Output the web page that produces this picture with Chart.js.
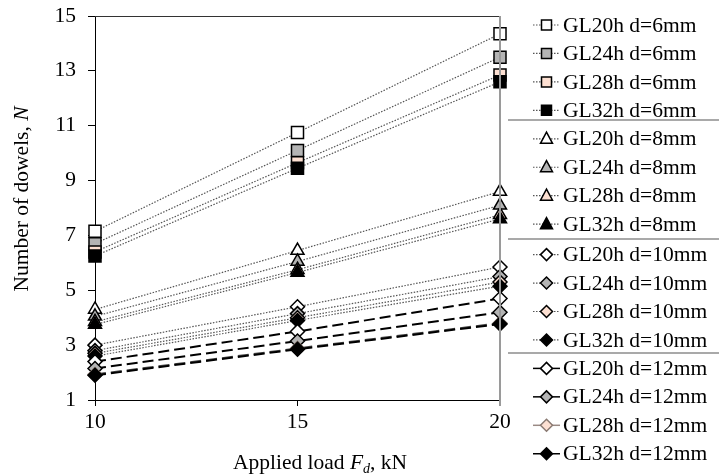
<!DOCTYPE html>
<html>
<head>
<meta charset="utf-8">
<script src="https://cdn.jsdelivr.net/npm/chart.js@4.4.1/dist/chart.umd.min.js"></script>
<style>
  html, body { margin: 0; padding: 0; background: #fff; }
  #wrap { width: 719px; height: 475px; }
</style>
</head>
<body>
<div id="wrap"><canvas id="lineChart" width="719" height="475"></canvas></div>
<script>
// x values (applied load, kN)
const loads = [10, 15, 20]

// number of dowels
const gl20_d6 = [7.15, 10.75, 14.35]
const gl24_d6 = [6.7, 10.1, 13.5]
const gl28_d6 = [6.4, 9.65, 12.85]
const gl32_d6 = [6.25, 9.45, 12.6]

const gl20_d8 = [4.3, 6.45, 8.6]
const gl24_d8 = [4.05, 6.05, 8.1]
const gl28_d8 = [3.85, 5.75, 7.75]
const gl32_d8 = [3.75, 5.65, 7.6]

const gl20_d10 = [3.0, 4.4, 5.85]
const gl24_d10 = [2.8, 4.15, 5.5]
const gl28_d10 = [2.7, 4.0, 5.3]
const gl32_d10 = [2.6, 3.9, 5.15]

const gl20_d12 = [2.4, 3.5, 4.7]
const gl24_d12 = [2.15, 3.15, 4.2]
const gl28_d12 = [1.93, 2.88, 3.8]
const gl32_d12 = [1.9, 2.85, 3.77]

const xTicks = [10, 15, 20]
const yTicks = [1, 3, 5, 7, 9, 11, 13, 15]

// colors
const serif = "'Liberation Serif', 'Times New Roman', serif"
const fontSize = 21.5
const cWhite = '#ffffff'
const cGrey = '#b4b4b4'
const cPeach = '#fde0d2'
const cBlack = '#000000'
const dotLine = '#555555'

function toPoints(values) {
    return values.map((v, i) => ({ x: loads[i], y: v }))
}

let setCount = 0

function makeSet(label, values, shape, fill, d12) {
    let radius = 8.5
    if (shape === 'triangle') radius = 7.5
    if (shape === 'rectRot') radius = 7
    setCount++
    return {
        label: label,
        data: toPoints(values),
        order: 100 - setCount, // later series on top, like the original
        clip: false,
        pointStyle: shape,
        pointRadius: radius,
        pointHoverRadius: radius,
        pointBackgroundColor: fill,
        pointBorderColor: (d12 && fill === cPeach) ? '#8a7a72' : '#000',
        pointBorderWidth: 1.5,
        borderColor: d12 ? (fill === cPeach ? '#444' : '#000') : dotLine,
        borderWidth: d12 ? 2 : 1.2,
        borderDash: d12 ? [11, 5] : [1.5, 1.5],
        fill: false,
        tension: 0
    }
}

const datasets = [
    makeSet('GL20h d=6mm', gl20_d6, 'rect', cWhite),
    makeSet('GL24h d=6mm', gl24_d6, 'rect', cGrey),
    makeSet('GL28h d=6mm', gl28_d6, 'rect', cPeach),
    makeSet('GL32h d=6mm', gl32_d6, 'rect', cBlack),
    makeSet('GL20h d=8mm', gl20_d8, 'triangle', cWhite),
    makeSet('GL24h d=8mm', gl24_d8, 'triangle', cGrey),
    makeSet('GL28h d=8mm', gl28_d8, 'triangle', cPeach),
    makeSet('GL32h d=8mm', gl32_d8, 'triangle', cBlack),
    makeSet('GL20h d=10mm', gl20_d10, 'rectRot', cWhite),
    makeSet('GL24h d=10mm', gl24_d10, 'rectRot', cGrey),
    makeSet('GL28h d=10mm', gl28_d10, 'rectRot', cPeach),
    makeSet('GL32h d=10mm', gl32_d10, 'rectRot', cBlack),
    makeSet('GL20h d=12mm', gl20_d12, 'rectRot', cWhite, true),
    makeSet('GL24h d=12mm', gl24_d12, 'rectRot', cGrey, true),
    makeSet('GL28h d=12mm', gl28_d12, 'rectRot', cPeach, true),
    makeSet('GL32h d=12mm', gl32_d12, 'rectRot', cBlack, true)
]

// draw one marker shape (legend only)
function drawMarker(ctx, shape, x, y, r, fill, stroke) {
    ctx.save()
    ctx.beginPath()
    if (shape === 'rect') {
        ctx.rect(x - r, y - r, 2 * r, 2 * r)
    } else if (shape === 'triangle') {
        ctx.moveTo(x, y - r * 1.1)
        ctx.lineTo(x + r, y + r * 0.75)
        ctx.lineTo(x - r, y + r * 0.75)
        ctx.closePath()
    } else {
        ctx.moveTo(x, y - r)
        ctx.lineTo(x + r, y)
        ctx.lineTo(x, y + r)
        ctx.lineTo(x - r, y)
        ctx.closePath()
    }
    ctx.fillStyle = fill
    ctx.fill()
    ctx.lineWidth = 1.5
    ctx.strokeStyle = stroke
    ctx.stroke()
    ctx.restore()
}

// frame, axis titles and the side legend
const extrasPlugin = {
    id: 'extras',
    afterDraw(chart) {
        const ctx = chart.ctx
        const area = chart.chartArea

        ctx.save()
        // top border
        ctx.strokeStyle = '#333'
        ctx.lineWidth = 1
        ctx.beginPath()
        ctx.moveTo(area.left, area.top + 0.5)
        ctx.lineTo(area.right, area.top + 0.5)
        ctx.stroke()

        // grey right line
        ctx.strokeStyle = '#9a9a9a'
        ctx.lineWidth = 2
        ctx.beginPath()
        ctx.moveTo(area.right, area.top)
        ctx.lineTo(area.right, area.bottom + 6)
        ctx.stroke()

        // y title
        ctx.fillStyle = '#000'
        ctx.textBaseline = 'middle'
        ctx.translate(22, 199)
        ctx.rotate(-Math.PI / 2)
        const yPart1 = 'Number of dowels, '
        ctx.font = 'italic ' + fontSize + 'px ' + serif
        const wN = ctx.measureText('N').width
        ctx.font = fontSize + 'px ' + serif
        const w1 = ctx.measureText(yPart1).width
        let sx = -(w1 + wN) / 2
        ctx.textAlign = 'left'
        ctx.fillText(yPart1, sx, 0)
        ctx.font = 'italic ' + fontSize + 'px ' + serif
        ctx.fillText('N', sx + w1, 0)
        ctx.restore()

        // x title
        ctx.save()
        ctx.fillStyle = '#000'
        ctx.textBaseline = 'alphabetic'
        ctx.textAlign = 'left'
        const baseY = 469
        ctx.font = fontSize + 'px ' + serif
        const a = 'Applied load '
        const wa = ctx.measureText(a).width
        ctx.font = 'italic ' + fontSize + 'px ' + serif
        const wf = ctx.measureText('F').width
        ctx.font = 'italic 14px ' + serif
        const wd = ctx.measureText('d').width
        ctx.font = fontSize + 'px ' + serif
        const wk = ctx.measureText(', kN').width
        let tx = 320 - (wa + wf + wd + wk) / 2
        ctx.fillText(a, tx, baseY)
        tx += wa
        ctx.font = 'italic ' + fontSize + 'px ' + serif
        ctx.fillText('F', tx, baseY)
        tx += wf
        ctx.font = 'italic 14px ' + serif
        ctx.fillText('d', tx, baseY + 4)
        tx += wd
        ctx.font = fontSize + 'px ' + serif
        ctx.fillText(', kN', tx, baseY)
        ctx.restore()

        // legend
        ctx.save()
        const rowStart = 25
        const rowGap = 28.45
        chart.data.datasets.forEach((ds, i) => {
            const y = rowStart + i * rowGap + (i >= 8 ? 2 : 0)
            // line sample
            ctx.save()
            ctx.strokeStyle = i === 14 ? '#9a8a84' : ds.borderColor
            ctx.lineWidth = i >= 12 ? 1.5 : 1.2
            ctx.setLineDash(i >= 12 ? [] : [1.5, 1.5])
            ctx.beginPath()
            ctx.moveTo(533, y)
            ctx.lineTo(560, y)
            ctx.stroke()
            ctx.restore()
            let r = 5
            if (ds.pointStyle === 'triangle') r = 6
            if (ds.pointStyle === 'rectRot') r = 6
            drawMarker(ctx, ds.pointStyle, 546.5, y, r, ds.pointBackgroundColor, ds.pointBorderColor)
            ctx.fillStyle = '#000'
            ctx.font = fontSize + 'px ' + serif
            ctx.textAlign = 'left'
            ctx.textBaseline = 'middle'
            ctx.fillText(ds.label, 563, y + 1)
        })
        // group separators
        ctx.strokeStyle = '#8c8c8c'
        ctx.lineWidth = 1.5
        const seps = [120, 239, 353]
        seps.forEach(sy => {
            ctx.beginPath()
            ctx.moveTo(508, sy)
            ctx.lineTo(719, sy)
            ctx.stroke()
        })
        ctx.restore()
    }
}

let lineChart = new Chart(document.getElementById('lineChart').getContext('2d'), {
    type: 'line',
    data: { datasets: datasets },
    options: {
        responsive: false,
        animation: false,
        layout: {
            padding: { top: 16, right: 219, left: 0, bottom: 0 }
        },
        plugins: {
            legend: { display: false },
            tooltip: { enabled: false }
        },
        scales: {
            x: {
                type: 'linear',
                min: 10,
                max: 20,
                afterBuildTicks: (scale) => { scale.ticks = xTicks.map(v => ({ value: v })) },
                afterFit: (scale) => {
                    scale.height = 75
                    scale.paddingLeft = 0
                    scale.paddingRight = 0
                },
                border: { display: true, color: '#000', width: 1 },
                grid: { drawOnChartArea: false, drawTicks: true, tickLength: 6, color: '#000' },
                ticks: {
                    color: '#000',
                    padding: 3,
                    maxRotation: 0,
                    font: { family: serif, size: fontSize }
                }
            },
            y: {
                type: 'linear',
                min: 1,
                max: 15,
                afterBuildTicks: (scale) => { scale.ticks = yTicks.map(v => ({ value: v })) },
                afterFit: (scale) => {
                    scale.width = 95
                    scale.paddingTop = 0
                    scale.paddingBottom = 0
                },
                border: { display: true, color: '#000', width: 1 },
                grid: { drawOnChartArea: false, drawTicks: true, tickLength: 7, color: '#000' },
                ticks: {
                    color: '#000',
                    padding: 12,
                    font: { family: serif, size: fontSize }
                }
            }
        }
    },
    plugins: [extrasPlugin]
});
</script>
</body>
</html>
